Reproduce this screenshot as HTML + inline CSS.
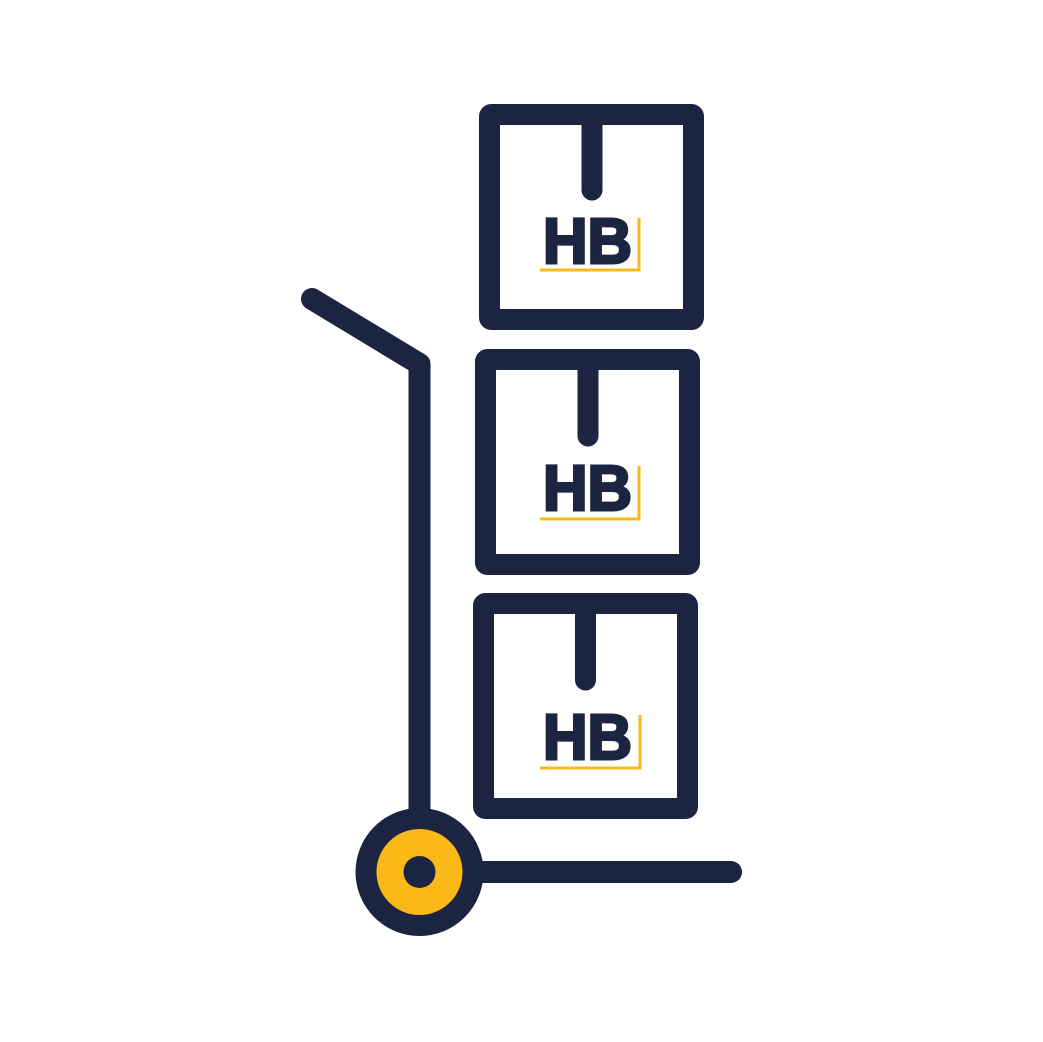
<!DOCTYPE html>
<html><head><style>html,body{margin:0;padding:0;background:#fff}svg{display:block}</style></head>
<body>
<svg width="1043" height="1042" viewBox="0 0 1043 1042" xmlns="http://www.w3.org/2000/svg">
<rect width="1043" height="1042" fill="#fff"/>
<g fill="none" stroke="#1b2440" stroke-width="21" stroke-linecap="round" stroke-linejoin="round">
<rect x="489.5" y="114.5" width="204" height="205" rx="2"/>
<rect x="485.5" y="359.5" width="204" height="205" rx="2"/>
<rect x="483.5" y="603.5" width="204" height="205" rx="2"/>
<line x1="592" y1="120" x2="592" y2="190"/>
<line x1="588" y1="365" x2="588" y2="436"/>
<line x1="585.5" y1="609" x2="585.5" y2="680"/>
<polyline points="312,299 419.5,364 419.5,812" stroke-width="22"/>
<line x1="470" y1="872" x2="731" y2="872" stroke-width="22"/>
</g>
<circle cx="419.5" cy="872" r="53.5" fill="#fbb919" stroke="#1b2440" stroke-width="21"/>
<circle cx="419.5" cy="872" r="16" fill="#1b2440"/>
<g font-family="Liberation Sans, sans-serif" font-weight="bold" font-size="64" fill="#1b2440" stroke="#1b2440" stroke-width="3" stroke-linejoin="miter">
<text x="543" y="263" textLength="89" lengthAdjust="spacingAndGlyphs">HB</text>
<text x="543" y="510" textLength="89" lengthAdjust="spacingAndGlyphs">HB</text>
<text x="543" y="759" textLength="89" lengthAdjust="spacingAndGlyphs">HB</text>
</g>
<g fill="none" stroke="#fbb919" stroke-width="3">
<polyline points="540,270 639,270 639,218"/>
<polyline points="540,519 639,519 639,466"/>
<polyline points="540,768 640,768 640,715"/>
</g>
</svg>
</body></html>
